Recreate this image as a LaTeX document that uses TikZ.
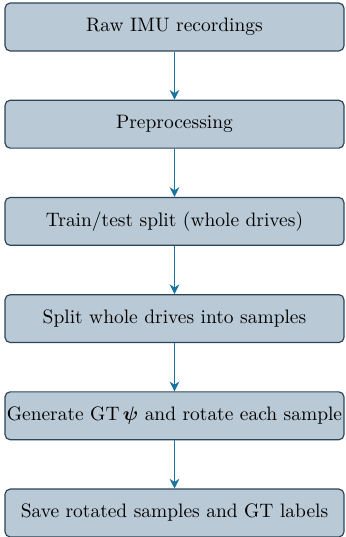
\documentclass[tikz,border=0pt]{standalone}
\usepackage{amsmath,bm}
\usetikzlibrary{arrows.meta}
\definecolor{boxfill}{HTML}{B9C9D5}
\definecolor{boxdraw}{HTML}{2B4457}
\definecolor{arrowcol}{HTML}{1A73A0}
\tikzset{
  stepbox/.style={draw=boxdraw, fill=boxfill, line width=0.6pt, rounded corners=2.6pt,
    minimum width=174.2pt, minimum height=24.6pt, inner sep=0pt, align=center, font=\normalsize},
  flow/.style={draw=arrowcol, line width=0.6pt, -{Stealth[length=5pt,width=5pt]}}
}
\begin{document}
\begin{tikzpicture}[x=0.514pt, y=-0.514pt]
\useasboundingbox (0,0) rectangle (346,537);
\node[stepbox] (a) at (174.5,27) {Raw IMU recordings};
\node[stepbox] (b) at (174.5,124.2) {Preprocessing};
\node[stepbox] (c) at (174.5,221.4) {Train/test split (whole drives)};
\node[stepbox] (d) at (174.5,318.6) {Split whole drives into samples};
\node[stepbox] (e) at (174.5,415.8) {Generate GT\,$\bm{\psi}$ and rotate each sample};
\node[stepbox] (f) at (174.5,513) {Save rotated samples and GT labels};
\draw[flow] (a) -- (b);
\draw[flow] (b) -- (c);
\draw[flow] (c) -- (d);
\draw[flow] (d) -- (e);
\draw[flow] (e) -- (f);
\end{tikzpicture}
\end{document}
